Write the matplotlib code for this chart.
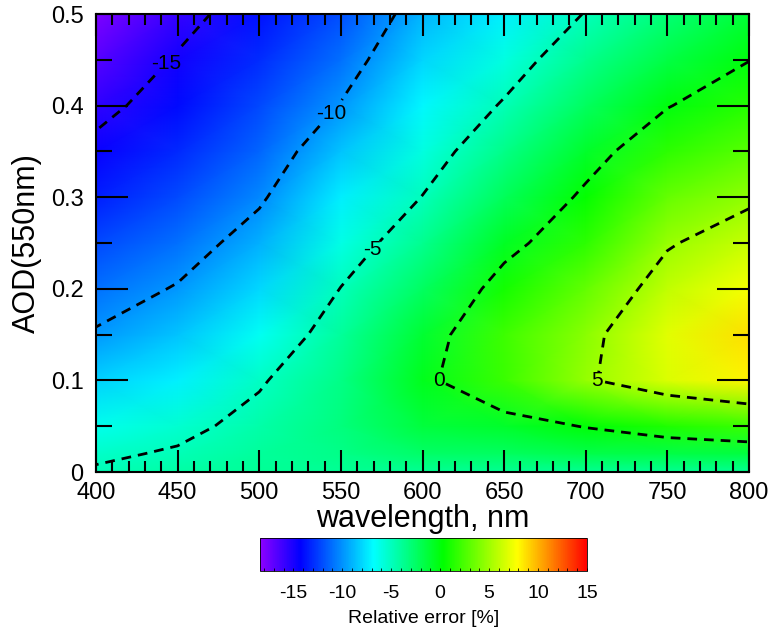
import numpy as np
import matplotlib
matplotlib.use('Agg')
import matplotlib.pyplot as plt
from matplotlib.colors import LinearSegmentedColormap
from matplotlib.ticker import MultipleLocator, FuncFormatter

plt.rcParams['font.family'] = ['Liberation Sans', 'DejaVu Sans']
plt.rcParams['axes.unicode_minus'] = False

# ---------------- data ----------------
wavelength = [400, 450, 500, 550, 600, 650, 700, 750, 800]
aod = [0.0, 0.02, 0.05, 0.10, 0.15, 0.20, 0.25, 0.30, 0.35, 0.40, 0.45, 0.50]

# relative error [%] for each wavelength column, listed along aod
err_400 = [-4.8, -5.3, -6.3, -8.1, -9.8, -11.0, -12.2, -13.4, -14.5, -15.6, -16.8, -18.0]
err_450 = [-4.3, -4.8, -5.5, -7.2, -8.5, -9.85, -11.0, -12.1, -13.1, -14.0, -14.8, -15.8]
err_500 = [-3.9, -4.0, -4.4, -5.2, -6.5, -7.9, -9.1, -10.3, -11.3, -12.2, -13.0, -13.8]
err_550 = [-3.9, -3.5, -3.2, -3.4, -4.0, -4.95, -6.1, -7.3, -8.5, -9.9, -11.0, -12.0]
err_600 = [-3.8, -2.6, -1.4, -0.5, -1.1, -2.4, -3.7, -4.95, -6.0, -7.0, -8.0, -9.0]
err_650 = [-3.8, -2.4, -0.9, 2.0, 2.1, 0.9, -0.7, -2.2, -3.5, -4.8, -6.0, -7.2]
err_700 = [-3.8, -1.8, 0.1, 4.7, 4.4, 3.2, 1.6, 0.4, -0.9, -2.3, -3.6, -4.9]
err_750 = [-3.8, -1.7, 1.2, 6.8, 7.0, 6.0, 4.8, 3.3, 1.6, -0.1, -1.6, -3.0]
err_800 = [-3.8, -1.5, 2.0, 8.2, 8.8, 7.6, 6.2, 4.6, 2.9, 1.4, -0.05, -1.2]

contour_levels = [-15, -10, -5, 0, 5]
cbar_ticks = [-15, -10, -5, 0, 5, 10, 15]
cbar_range = (-18.4, 15.0)
x_ticks = [400, 450, 500, 550, 600, 650, 700, 750, 800]
y_ticks = [0.0, 0.1, 0.2, 0.3, 0.4, 0.5]
# where the contour labels sit (wavelength, aod)
label_spots = [(447, 0.44), (545, 0.39), (573, 0.237), (608, 0.10), (705, 0.10)]

# ---------------- figure ----------------
Z = np.array([err_400, err_450, err_500, err_550, err_600,
              err_650, err_700, err_750, err_800]).T
W, A = np.meshgrid(wavelength, aod)

cmap = LinearSegmentedColormap.from_list(
    'idl_rainbow',
    [(0.0, (0.55, 0.0, 1.0)),
     (0.123, (0.0, 0.0, 1.0)),
     (0.347, (0.0, 1.0, 1.0)),
     (0.56, (0.0, 1.0, 0.0)),
     (0.787, (1.0, 1.0, 0.0)),
     (1.0, (1.0, 0.0, 0.0))], N=512)

fig = plt.figure(figsize=(7.73, 6.28), dpi=100)
ax = fig.add_axes([0.1242, 0.2484, 0.8448, 0.7293])

pc = ax.pcolormesh(W, A, Z, cmap=cmap, vmin=cbar_range[0], vmax=cbar_range[1],
                   shading='gouraud', rasterized=True)
cs = ax.contour(W, A, Z, levels=contour_levels, colors='k', linewidths=2.0,
                linestyles=[(0, (3.5, 2.5))])
texts = ax.clabel(cs, fmt=lambda v: f'{v:.0f}', fontsize=15, manual=label_spots,
                  inline=True, inline_spacing=2)
for t in texts:
    t.set_rotation(0)

ax.set_xlim(400, 800)
ax.set_ylim(0, 0.5)
ax.set_xticks(x_ticks)
ax.set_yticks(y_ticks)
ax.xaxis.set_minor_locator(MultipleLocator(10))
ax.yaxis.set_minor_locator(MultipleLocator(0.05))
ax.yaxis.set_major_formatter(FuncFormatter(lambda v, p: '0' if abs(v) < 1e-9 else f'{v:.1f}'))
ax.tick_params(axis='both', which='both', direction='in', top=True, right=True,
               width=1.5, labelsize=17, colors='k')
ax.tick_params(axis='x', which='major', length=16, pad=7)
ax.tick_params(axis='x', which='minor', length=8)
ax.tick_params(axis='y', which='major', length=23, pad=9)
ax.tick_params(axis='y', which='minor', length=11.5)
for s in ax.spines.values():
    s.set_linewidth(1.5)
ax.set_xlabel('wavelength, nm', fontsize=22, labelpad=0)
ax.set_ylabel('AOD(550nm)', fontsize=22, labelpad=6)

cax = fig.add_axes([0.3364, 0.0908, 0.423, 0.0525])
cb = fig.colorbar(pc, cax=cax, orientation='horizontal')
cb.set_ticks(cbar_ticks)
cax.xaxis.set_minor_locator(MultipleLocator(1))
cax.tick_params(which='both', direction='in', length=2, width=0.6, labelsize=14, pad=10)
cb.outline.set_linewidth(0.6)
cb.set_label('Relative error [%]', fontsize=14, labelpad=6)

fig.savefig('out.png', dpi=100)
